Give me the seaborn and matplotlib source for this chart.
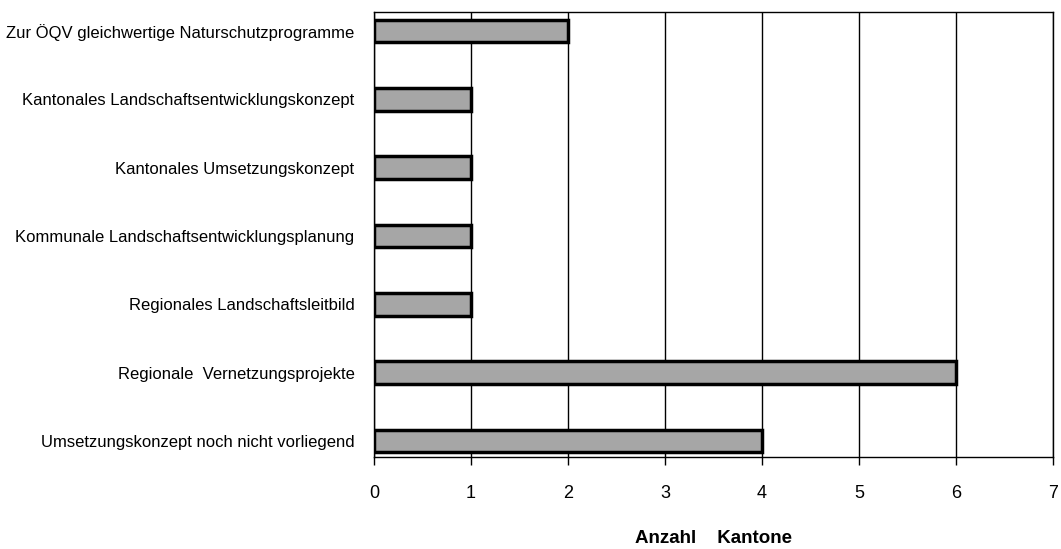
import matplotlib
matplotlib.use("Agg")
import matplotlib.pyplot as plt
import seaborn as sns
import pandas as pd

categories = [
    "Zur ÖQV gleichwertige Naturschutzprogramme",
    "Kantonales Landschaftsentwicklungskonzept",
    "Kantonales Umsetzungskonzept",
    "Kommunale Landschaftsentwicklungsplanung",
    "Regionales Landschaftsleitbild",
    "Regionale  Vernetzungsprojekte",
    "Umsetzungskonzept noch nicht vorliegend",
]
values = [2, 1, 1, 1, 1, 6, 4]
x_ticks = [0, 1, 2, 3, 4, 5, 6, 7]
x_label = "Anzahl    Kantone"

sns.set_theme(style="white")
plt.rcParams['font.family'] = ['Liberation Sans', 'DejaVu Sans']
plt.rcParams['text.color'] = 'black'
plt.rcParams['axes.labelcolor'] = 'black'
plt.rcParams['xtick.color'] = 'black'
plt.rcParams['ytick.color'] = 'black'

df = pd.DataFrame({"cat": categories, "val": values})

fig = plt.figure(figsize=(10.61, 5.49), dpi=100)
ax = fig.add_axes([374/1061, 1-457/549, (1053-374)/1061, (457-12)/549])

sns.barplot(data=df, y="cat", x="val", orient="h", color="#a6a6a6",
            saturation=1, edgecolor="black", linewidth=2.5, width=0.33, ax=ax, zorder=3)

ax.set_xlim(0, 7)
ax.set_ylim(6 + 16/68.3, -19/68.3)
ax.set_xticks(x_ticks)
ax.set_xticklabels([str(t) for t in x_ticks], fontsize=13)
ax.xaxis.grid(True, color="black", linewidth=1)
ax.yaxis.grid(False)
ax.set_axisbelow(True)
for s in ax.spines.values():
    s.set_color("black")
    s.set_linewidth(1)
ax.spines['right'].set_visible(True)
ax.tick_params(axis='x', bottom=True, direction='out', length=6, width=1, color='black', pad=14)
ax.tick_params(axis='y', left=False, labelsize=12, pad=8)
ax.set_ylabel("")
ax.set_xlabel(x_label, fontsize=13.5, fontweight="bold", labelpad=20)

fig.savefig("out.png", dpi=100)
